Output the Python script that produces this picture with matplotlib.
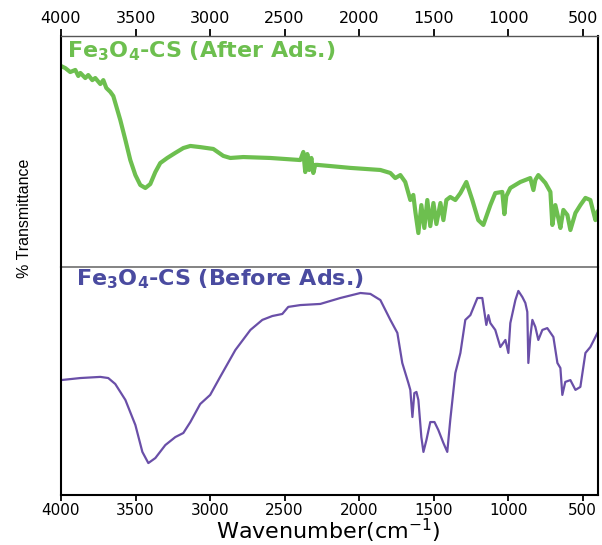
import numpy as np
import matplotlib.pyplot as plt

plt.rcParams['font.family'] = 'DejaVu Sans'
plt.rcParams['mathtext.fontset'] = 'custom'
plt.rcParams['mathtext.rm'] = 'DejaVu Sans'
plt.rcParams['mathtext.bf'] = 'DejaVu Sans:bold'

# FTIR spectra (wavenumber in cm-1, transmittance in arbitrary %)
wn_after = [4000, 3971, 3938, 3904, 3884, 3870, 3837, 3817, 3790, 3770, 3736, 3716, 3696, 3669, 3649,
            3602, 3568, 3535, 3501, 3468, 3434, 3401, 3367, 3334, 3287, 3233, 3179, 3132, 3066, 2978,
            2911, 2864, 2777, 2596, 2394, 2374, 2361, 2347, 2334, 2320, 2307, 2294, 2280, 2193, 2059,
            1857, 1790, 1757, 1723, 1690, 1656, 1636, 1622, 1602, 1582, 1562, 1542, 1522, 1501, 1481,
            1454, 1434, 1414, 1388, 1354, 1320, 1280, 1240, 1200, 1166, 1119, 1086, 1039, 1025, 1012,
            985, 918, 851, 830, 817, 797, 750, 716, 703, 683, 663, 649, 629, 602, 582,
            548, 515, 481, 448, 414, 400]
t_after = [87.0, 86.1, 84.4, 85.3, 82.7, 84.0, 81.8, 83.1, 80.9, 81.8, 79.2, 80.9, 77.5, 75.8, 74.0,
           63.6, 55.0, 46.3, 39.8, 35.5, 34.2, 35.9, 41.1, 45.0, 47.2, 49.4, 51.5, 52.4, 51.9, 51.1,
           48.1, 47.2, 47.6, 47.2, 46.3, 49.8, 41.1, 48.9, 42.0, 47.2, 40.7, 44.2, 44.2, 43.7, 42.9,
           42.0, 40.7, 38.5, 39.8, 36.8, 29.0, 31.2, 23.8, 14.7, 26.8, 16.9, 29.0, 17.7, 27.7, 18.6,
           27.7, 20.3, 29.0, 30.3, 29.0, 32.0, 36.8, 29.0, 20.3, 18.2, 26.8, 32.0, 32.5, 22.9, 30.7,
           34.2, 36.8, 38.5, 33.3, 37.7, 39.8, 36.4, 32.5, 18.2, 26.8, 21.2, 16.9, 24.7, 22.5, 16.0,
           23.4, 26.8, 29.9, 29.0, 20.3, 23.8]

wn_before = [4000, 3870, 3736, 3683, 3636, 3568, 3501, 3454, 3414, 3367, 3300, 3233, 3179, 3132, 3066,
             2999, 2932, 2830, 2729, 2649, 2582, 2515, 2475, 2394, 2260, 2126, 1991, 1924, 1857, 1790,
             1743, 1710, 1669, 1656, 1642, 1629, 1615, 1602, 1582, 1568, 1548, 1522, 1494, 1468, 1434,
             1408, 1388, 1354, 1320, 1287, 1253, 1206, 1173, 1146, 1132, 1119, 1086, 1052, 1018, 998,
             985, 951, 931, 904, 884, 871, 864, 851, 837, 817, 797, 770, 737, 696, 669,
             649, 636, 616, 582, 548, 515, 481, 448, 414, 400]
t_before = [50.4, 51.3, 51.8, 51.3, 48.7, 41.7, 30.7, 18.9, 14.0, 16.2, 21.9, 25.4, 27.2, 32.0, 39.9,
            43.9, 51.8, 63.6, 72.4, 76.8, 78.5, 79.4, 82.5, 83.3, 83.8, 86.4, 88.6, 88.2, 85.5, 76.8,
            71.1, 57.9, 49.1, 46.1, 34.2, 44.7, 45.2, 41.7, 25.4, 18.9, 24.1, 32.0, 32.0, 28.5, 22.8,
            18.9, 32.9, 53.5, 62.3, 76.8, 78.9, 86.4, 86.4, 74.6, 78.9, 75.4, 72.4, 64.9, 68.0, 62.3,
            75.4, 85.5, 89.5, 86.8, 84.2, 80.3, 57.9, 69.3, 76.8, 73.7, 68.0, 72.4, 73.2, 69.3, 57.9,
            55.7, 43.9, 49.6, 50.4, 46.1, 47.4, 62.3, 64.9, 69.3, 71.1]

xticks = [4000, 3500, 3000, 2500, 2000, 1500, 1000, 500]

green = '#6dbf4f'
purple = '#6a4fa8'

fig = plt.figure(figsize=(6.02, 5.45), dpi=100)
W, H = 602, 545
left, right = 61, 597.5
top, mid, bottom = 36, 267, 495
ax_top = fig.add_axes([left / W, 1 - mid / H, (right - left) / W, (mid - top) / H])
ax_bot = fig.add_axes([left / W, 1 - bottom / H, (right - left) / W, (bottom - mid) / H])
ax_bot.patch.set_visible(False)

ax_top.plot(wn_after, t_after, color=green, lw=3.0, solid_joinstyle='round')
ax_bot.plot(wn_before, t_before, color=purple, lw=1.6, solid_joinstyle='round')

for ax in (ax_top, ax_bot):
    ax.set_xlim(4000, 400)
    ax.set_ylim(0, 100)
    ax.set_yticks([])
    ax.set_xticks(xticks)
    for s in ('left', 'right'):
        ax.spines[s].set_linewidth(1.5)
        ax.spines[s].set_color('black')

ax_top.tick_params(axis='x', bottom=False, labelbottom=False, top=True, labeltop=True,
                   direction='out', length=5, width=1.3, labelsize=11.5, pad=2)
ax_top.spines['top'].set_color('#555555')
ax_top.spines['top'].set_linewidth(1.0)
ax_top.spines['bottom'].set_color('#6e6e6e')
ax_top.spines['bottom'].set_linewidth(1.2)
ax_bot.spines['top'].set_visible(False)
ax_bot.spines['bottom'].set_linewidth(1.5)
ax_bot.tick_params(axis='x', direction='out', length=4, width=1.3, labelsize=11, pad=1.5)

ax_top.text(67 / W, 1 - 51 / H, r'Fe$_\mathbf{3}$O$_\mathbf{4}$-CS (After Ads.)',
            transform=fig.transFigure, color=green, fontsize=16, fontweight='bold', va='center')
ax_bot.text(76 / W, 1 - 279 / H, r'Fe$_\mathbf{3}$O$_\mathbf{4}$-CS (Before Ads.)',
            transform=fig.transFigure, color='#4a4ba0', fontsize=16, fontweight='bold', va='center')

fig.text(25 / W, 1 - 218 / H, '% Transmittance', rotation=90, ha='center', va='center',
         fontsize=11.5, family='Liberation Sans')
fig.text(328 / W, 1 - 539.5 / H, r'Wavenumber(cm$^{-1}$)', ha='center', va='baseline', fontsize=16)

fig.savefig('out.png', dpi=100, facecolor='white')
